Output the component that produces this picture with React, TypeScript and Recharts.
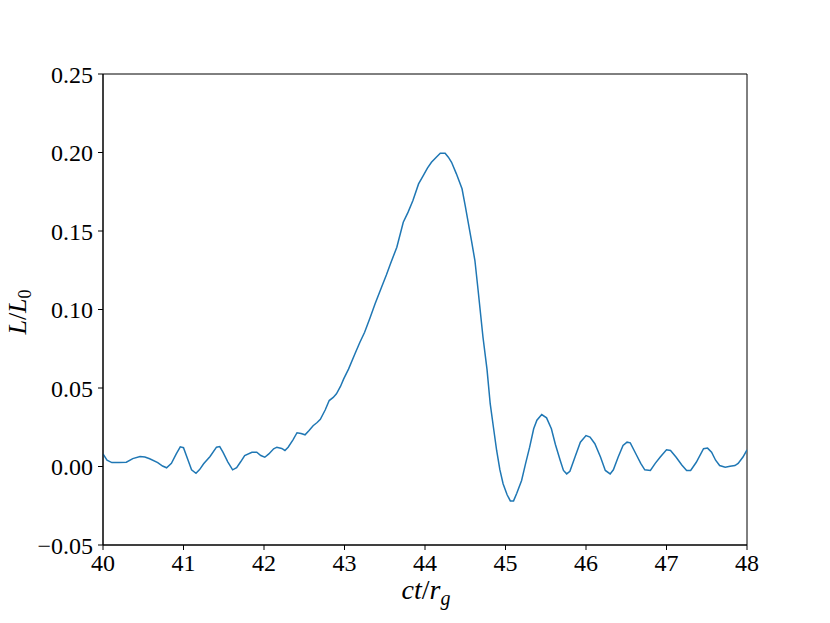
import React from "react";
import { LineChart, Line, XAxis, YAxis, ReferenceArea } from "recharts";

const tValues = [
  40.0, 40.05, 40.11, 40.2, 40.29, 40.37, 40.46, 40.52, 40.58, 40.68, 40.74, 40.79, 40.85, 40.91, 40.96,
  41.0, 41.05, 41.1, 41.155, 41.2, 41.25, 41.33, 41.41, 41.45, 41.49, 41.55, 41.61, 41.66, 41.71, 41.76,
  41.85, 41.91, 41.96, 42.01, 42.06, 42.12, 42.16, 42.22, 42.26, 42.3, 42.36, 42.41, 42.46, 42.51, 42.56,
  42.61, 42.66, 42.7, 42.76, 42.81, 42.86, 42.9, 42.95, 42.99, 43.05, 43.13, 43.19, 43.25, 43.32, 43.38,
  43.46, 43.52, 43.57, 43.65, 43.73, 43.79, 43.85, 43.92, 43.98, 44.03, 44.08, 44.14, 44.19, 44.25, 44.29,
  44.33, 44.39, 44.46, 44.5, 44.54, 44.58, 44.62, 44.66, 44.72, 44.77, 44.81, 44.85, 44.89, 44.93, 44.97,
  45.02, 45.06, 45.1, 45.14, 45.2, 45.25, 45.3, 45.35, 45.39, 45.45, 45.51, 45.57, 45.62, 45.68, 45.72,
  45.76, 45.8, 45.87, 45.93, 46.0, 46.05, 46.11, 46.18, 46.24, 46.3, 46.34, 46.4, 46.46, 46.51, 46.55,
  46.63, 46.68, 46.73, 46.8, 46.86, 46.92, 47.0, 47.05, 47.12, 47.19, 47.25, 47.3, 47.37, 47.46, 47.51,
  47.56, 47.61, 47.66, 47.73, 47.79, 47.85, 47.89, 47.95, 48.0,
];

const lValues = [
  0.008, 0.004, 0.0025, 0.0025, 0.0027, 0.005, 0.0064, 0.006, 0.0049, 0.0025, 0.0003, -0.0008, 0.002, 0.008, 0.0125,
  0.012, 0.005, -0.0021, -0.0043, -0.002, 0.0017, 0.0064, 0.0123, 0.0127, 0.0091, 0.003, -0.0021, -0.0008, 0.003, 0.007,
  0.0091, 0.0091, 0.007, 0.0059, 0.008, 0.0113, 0.0123, 0.0115, 0.0102, 0.0123, 0.017, 0.0215, 0.021, 0.0202, 0.023,
  0.026, 0.028, 0.03, 0.036, 0.042, 0.044, 0.0463, 0.051, 0.0558, 0.062, 0.0718, 0.079, 0.0855, 0.095, 0.1036,
  0.1142, 0.122, 0.129, 0.1397, 0.1556, 0.162, 0.1694, 0.18, 0.1854, 0.19, 0.1938, 0.197, 0.1995, 0.1995, 0.197,
  0.1938, 0.1864, 0.1769, 0.166, 0.1546, 0.143, 0.1312, 0.1121, 0.0825, 0.062, 0.04, 0.025, 0.0102, -0.002, -0.011,
  -0.018, -0.0219, -0.0219, -0.017, -0.0089, 0.002, 0.0123, 0.024, 0.0295, 0.0331, 0.031, 0.024, 0.014, 0.0038, -0.0025,
  -0.0047, -0.003, 0.007, 0.0155, 0.0197, 0.0187, 0.0145, 0.006, -0.0025, -0.0047, -0.0021, 0.006, 0.0134, 0.0155, 0.0151,
  0.007, 0.002, -0.0021, -0.0025, 0.002, 0.0059, 0.0106, 0.0102, 0.0059, 0.001, -0.0025, -0.0025, 0.0027, 0.0113, 0.0117,
  0.0091, 0.004, 0.0006, -0.0004, 0.0001, 0.0006, 0.002, 0.006, 0.0106,
];

const xTicks = [40, 41, 42, 43, 44, 45, 46, 47, 48];
const yTicks = [-0.05, 0, 0.05, 0.1, 0.15, 0.2, 0.25];

const data = tValues.map((t, i) => ({ t, L: lValues[i] }));

const FONT = "'Liberation Serif', 'DejaVu Serif', serif";

const fmtY = (v: number) => {
  const s = Math.abs(v).toFixed(2);
  return v < -1e-9 ? "\u2212" + s : s;
};

const renderXTick = (props: any) => {
  const { x, y, payload } = props;
  return (
    <text x={x} y={y + 17} textAnchor="middle" fontFamily={FONT} fontSize={24} fill="#000">
      {String(payload.value)}
    </text>
  );
};

const renderYTick = (props: any) => {
  const { x, y, payload } = props;
  return (
    <text x={x - 1} y={y + 8.5} textAnchor="end" fontFamily={FONT} fontSize={24} fill="#000">
      {fmtY(payload.value)}
    </text>
  );
};

export default function App() {
  return (
    <div style={{ position: "relative", width: 822, height: 615 }}>
      <LineChart
        width={822}
        height={615}
        data={data}
        margin={{ top: 66, right: 83, bottom: 0, left: 0 }}
      >
        <XAxis
          dataKey="t"
          type="number"
          domain={[40, 48]}
          ticks={xTicks}
          allowDataOverflow
          height={78}
          tickSize={5}
          tickMargin={4}
          stroke="#000"
          tick={renderXTick}
        />
        <YAxis
          type="number"
          domain={[-0.05, 0.25]}
          ticks={yTicks}
          allowDataOverflow
          width={95}
          tickSize={5}
          tickMargin={4}
          stroke="#000"
          tick={renderYTick}
        />
        <ReferenceArea x1={40} x2={48} y1={-0.05} y2={0.25} fill="none" stroke="#000" strokeWidth={1} ifOverflow="visible" />
        <Line
          type="linear"
          dataKey="L"
          stroke="#1f77b4"
          strokeWidth={1.5}
          dot={false}
          isAnimationActive={false}
        />
      </LineChart>
      <svg
        width={822}
        height={615}
        style={{ position: "absolute", left: 0, top: 0, pointerEvents: "none" }}
      >
        <text x={418} y={591} textAnchor="middle" fontFamily={FONT} fontSize={28} fill="#000">
          <tspan fontStyle="italic">ct</tspan>
          <tspan>/</tspan>
          <tspan fontStyle="italic">r</tspan>
          <tspan fontStyle="italic" fontSize={20} dy={6}>g</tspan>
        </text>
        <text
          x={0}
          y={0}
          transform="translate(18, 304) rotate(-90)"
          textAnchor="middle"
          fontFamily={FONT}
          fontSize={26}
          fill="#000"
        >
          <tspan fontStyle="italic">L</tspan>
          <tspan>/</tspan>
          <tspan fontStyle="italic">L</tspan>
          <tspan fontSize={18} dy={5}>0</tspan>
        </text>
      </svg>
    </div>
  );
}
